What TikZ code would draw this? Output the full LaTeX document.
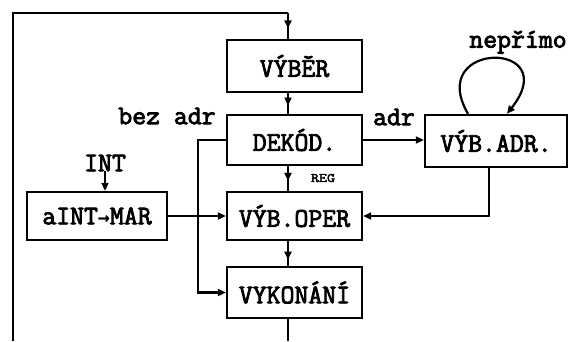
\documentclass[tikz,border=0pt]{standalone}
\usepackage{fontspec}
\setmonofont{Latin Modern Mono}[AutoFakeBold=3]
\newfontfamily\arrfont{DejaVu Sans Mono}
\usetikzlibrary{arrows.meta,decorations.markings}
\tikzset{
  tip/.tip={Triangle[length=8pt,width=7pt]},
  ln/.style={line width=2.2pt},
  arr/.style={ln,-tip},
  midarrow/.style={ln,decoration={markings,mark=at position #1 with {\arrow{Triangle[length=8pt,width=7pt]}}},postaction={decorate}},
  box/.style={draw,line width=2.4pt,inner sep=0pt,font=\fontsize{27}{27}\selectfont\ttfamily\bfseries},
  lab/.style={inner sep=0pt,font=\fontsize{27}{27}\selectfont\ttfamily\bfseries},
}
\begin{document}
\begin{tikzpicture}[x=1pt,y=-1pt]
\useasboundingbox (0,0) rectangle (575,341);
% boxes
\node[box,minimum width=135pt,minimum height=52pt] (vyber) at (294.5,66) {VÝBĚR};
\node[box,minimum width=135pt,minimum height=50pt] (dekod) at (294.5,140) {DEKÓD.};
\node[box,minimum width=135pt,minimum height=48pt] (oper) at (294.5,216) {VÝB.OPER};
\node[box,minimum width=135pt,minimum height=51pt] (vykon) at (294.5,292.5) {VYKONÁNÍ};
\node[box,minimum width=142pt,minimum height=52pt] (vadr) at (496,141) {VÝB.ADR.};
\node[box,minimum width=140pt,minimum height=48pt] (aint) at (97,216) {aINT{\arrfont\fontsize{20}{20}\selectfont\bfseries→}MAR};
% labels
\node[lab] (bez) at (167,116) {bez adr};
\node[lab] (adrl) at (394,117) {adr};
\node[lab] (nep) at (518,42) {nepřímo};
\node[lab] (int) at (105,163) {INT};
\node[inner sep=0pt,font=\fontsize{13}{13}\selectfont\ttfamily\bfseries,xscale=1.2] (reg) at (323,178) {REG};
% free ends
\coordinate (bl) at (13,341);
\coordinate (br) at (288,341);
\coordinate (tc) at (288,13);
% connectors
\draw[ln] (bl) |- (tc);
\draw[midarrow=0.6] (tc) -- ([xshift=-6.5pt]vyber.north);
\draw[midarrow=0.6] ([xshift=-6.5pt]vyber.south) -- ([xshift=-6.5pt]dekod.north);
\draw[midarrow=0.6] ([xshift=-6.5pt]dekod.south) -- ([xshift=-6.5pt]oper.north);
\draw[midarrow=0.75] ([xshift=-6.5pt]oper.south) -- ([xshift=-6.5pt]vykon.north);
\draw[ln] ([xshift=-6.5pt]vykon.south) -- (br);
\draw[arr] (dekod.east) -- (dekod.east -| vadr.west);
\draw[arr] ([xshift=-7pt]vadr.south) |- (oper.east);
\draw[arr] (aint.east) -- (oper.west);
\draw[arr] (dekod.west) -- ++(-28,0) |- (vykon.west);
\draw[arr] (int.south) -- (int.south |- aint.north);
\draw[arr] ([xshift=-28pt]vadr.north) .. controls (425,40) and (565,40) .. ([xshift=11pt]vadr.north);
\end{tikzpicture}
\end{document}
